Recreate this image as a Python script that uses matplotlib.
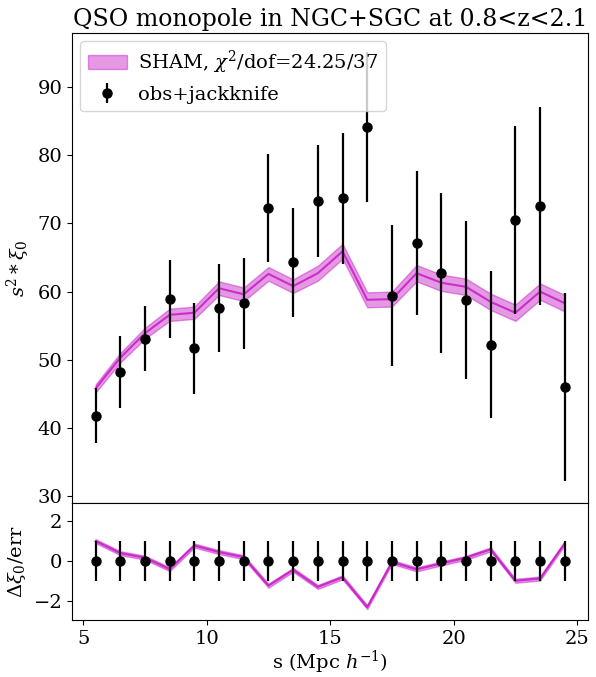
import numpy as np
import matplotlib
matplotlib.use('Agg')
import matplotlib.pyplot as plt

plt.rcParams['font.family'] = 'DejaVu Serif'
plt.rcParams['mathtext.fontset'] = 'dejavuserif'

# separation bins (Mpc/h)
s_bins = [5.5, 6.5, 7.5, 8.5, 9.5, 10.5, 11.5, 12.5, 13.5, 14.5,
          15.5, 16.5, 17.5, 18.5, 19.5, 20.5, 21.5, 22.5, 23.5, 24.5]

# observed s^2 xi_0 and jackknife errors
obs = [41.8, 48.2, 53.1, 58.9, 51.7, 57.6, 58.3, 72.3, 64.3, 73.3,
       73.7, 84.1, 59.4, 67.1, 62.7, 58.8, 52.2, 70.5, 72.6, 46.0]
obs_err = [4.0, 5.3, 4.8, 5.7, 6.7, 6.5, 6.7, 7.9, 8.0, 8.2,
           9.6, 11.0, 10.3, 10.6, 11.7, 11.6, 10.8, 13.8, 14.5, 13.8]

# SHAM model: median and band half-width
sham = [45.8, 50.3, 53.9, 56.6, 56.9, 60.5, 59.6, 62.6, 60.8, 62.7,
        65.9, 58.8, 58.9, 62.7, 61.3, 60.7, 58.5, 56.9, 60.0, 58.3]
sham_hw = [0.6, 0.7, 0.8, 0.9, 0.9, 1.0, 1.0, 1.0, 1.0, 1.1,
           1.1, 1.1, 1.1, 1.2, 1.2, 1.2, 1.2, 1.2, 1.2, 1.2]

chi2_label = r'SHAM, $\chi^2$/dof=24.25/37'

s = np.array(s_bins)
y = np.array(obs)
e = np.array(obs_err)
m = np.array(sham)
hw = np.array(sham_hw)

fig = plt.figure(figsize=(5.96, 6.77), dpi=100)
ax = fig.add_axes([0.121, 0.257, 0.866, 0.694])
ax2 = fig.add_axes([0.121, 0.084, 0.866, 0.173], sharex=ax)

ax.fill_between(s, m - hw, m + hw, color='m', alpha=0.4, label=chi2_label)
ax.plot(s, m, color='m', alpha=0.7, lw=1.5)
ax.errorbar(s, y, e, color='k', marker='o', ms=6.5, ls='none', elinewidth=1.6,
            label='obs+jackknife')
ax.set_ylim(29, 97.9)
ax.set_yticks([30, 40, 50, 60, 70, 80, 90])
ax.set_ylabel(r'$s^2 * \xi_0$', fontsize=14)
ax.set_title('QSO monopole in NGC+SGC at 0.8<z<2.1', fontsize=17, pad=5)
ax.legend(loc='upper left', fontsize=14, borderaxespad=0.4, handletextpad=0.6)
ax.tick_params(labelbottom=False, labelsize=14)

res = (m - y) / e
ax2.fill_between(s, res - 0.1, res + 0.1, color='m', alpha=0.4)
ax2.plot(s, res, color='m', alpha=0.7, lw=1.5)
ax2.errorbar(s, np.zeros_like(s), np.ones_like(s), color='k', marker='o', ms=6.5,
             ls='none', elinewidth=1.6)
ax2.set_ylim(-2.95, 2.9)
ax2.set_yticks([-2, 0, 2])
ax2.set_ylabel(r'$\Delta\xi_0$/err', fontsize=14)
ax2.set_xlabel(r's (Mpc $h^{-1}$)', fontsize=14, labelpad=1)
ax2.set_xticks([5, 10, 15, 20, 25])
ax2.tick_params(labelsize=14)

fig.savefig('out.png', dpi=100)
